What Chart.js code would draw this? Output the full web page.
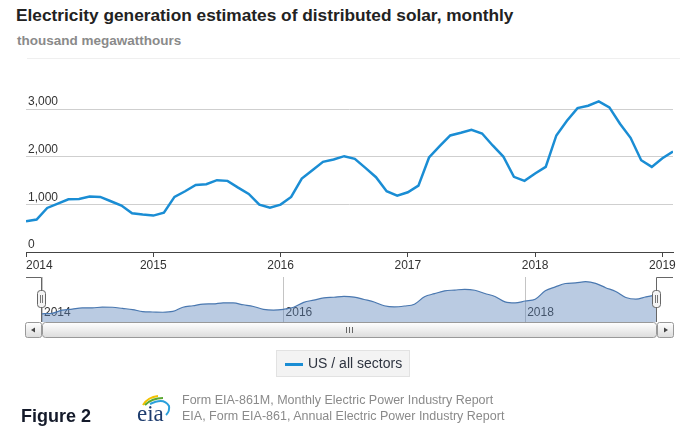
<!DOCTYPE html>
<html>
<head>
<meta charset="utf-8">
<script src="https://cdn.jsdelivr.net/npm/chart.js@4.4.1/dist/chart.umd.min.js"></script>
<style>
html,body{margin:0;padding:0;background:#fff;}
body{width:680px;height:430px;position:relative;overflow:hidden;font-family:"Liberation Sans",Arial,sans-serif;}
.abs{position:absolute;}
#title{left:16px;top:5px;font-size:17.3px;line-height:20px;font-weight:bold;color:#222;white-space:nowrap;}
#sub{left:17px;top:33px;font-size:13.5px;line-height:16px;font-weight:bold;color:#8a8a8a;white-space:nowrap;}
#rule{left:27px;top:58px;width:653px;height:1px;background:#efefef;}
#main{left:0;top:60px;}
#nav{left:0;top:270px;}
#overlay{left:0;top:0;pointer-events:none;}
#legend{left:276px;top:350px;width:132px;height:25px;background:#f3f3f3;border:1px solid #e2e2e2;}
#legend .sw{position:absolute;left:8px;top:12px;width:18px;height:2.5px;background:#1a8dd4;}
#legend .tx{position:absolute;left:31px;top:4px;font-size:14px;line-height:17px;color:#2e3440;white-space:nowrap;}
#fig{left:21px;top:406px;font-size:18px;line-height:20px;font-weight:bold;color:#141a2a;white-space:nowrap;}
#src{left:182px;top:393px;font-size:12.5px;line-height:15.7px;color:#8a8a8a;white-space:nowrap;}
</style>
</head>
<body>
<div id="title" class="abs">Electricity generation estimates of distributed solar, monthly</div>
<div id="sub" class="abs">thousand megawatthours</div>
<div id="rule" class="abs"></div>
<canvas id="main" class="abs" width="680" height="215"></canvas>
<canvas id="nav" class="abs" width="680" height="60"></canvas>
<svg id="overlay" class="abs" width="680" height="430" xmlns="http://www.w3.org/2000/svg">
  <defs>
    <linearGradient id="sg" x1="0" y1="0" x2="0" y2="1">
      <stop offset="0" stop-color="#ffffff"/>
      <stop offset="1" stop-color="#dcdcdc"/>
    </linearGradient>
  </defs>
  <!-- navigator outline -->
  <path d="M26,277.5 H41.5 V322 M656.5,322 V277.5 H673" fill="none" stroke="#666" stroke-width="1"/>
  <!-- scrollbar -->
  <rect x="25.5" y="322.5" width="16" height="15" rx="2" fill="url(#sg)" stroke="#999"/>
  <path d="M35,327.5 L31,330 L35,332.5 Z" fill="#444"/>
  <rect x="42.5" y="322.5" width="614" height="15" rx="3" fill="url(#sg)" stroke="#999"/>
  <path d="M346.5,327 V333 M349.5,327 V333 M352.5,327 V333" stroke="#666" stroke-width="1"/>
  <rect x="657.5" y="322.5" width="16" height="15" rx="2" fill="url(#sg)" stroke="#999"/>
  <path d="M664,327.5 L668,330 L664,332.5 Z" fill="#444"/>
  <!-- handles -->
  <rect x="37.5" y="290.5" width="8" height="17" rx="3" fill="#f4f4f4" stroke="#666"/>
  <path d="M40.5,295 V303 M42.5,295 V303" stroke="#777" stroke-width="1"/>
  <rect x="652.5" y="290.5" width="8" height="17" rx="3" fill="#f4f4f4" stroke="#666"/>
  <path d="M655.5,295 V303 M657.5,295 V303" stroke="#777" stroke-width="1"/>
  <!-- eia logo -->
  <path d="M143,405 Q148,397 158,396" fill="none" stroke="#f2c200" stroke-width="2"/>
  <path d="M145,405 Q152,398 163,398" fill="none" stroke="#5aa832" stroke-width="2"/>
  <path d="M150,404 Q164,397 169,406 Q170,411 166,415" fill="none" stroke="#2aa0dc" stroke-width="2"/>
  <text x="137" y="421" font-family="Liberation Serif, DejaVu Serif, serif" font-size="23" fill="#1d3c6e">eia</text>
</svg>
<div id="legend" class="abs"><div class="sw"></div><div class="tx">US / all sectors</div></div>
<div id="fig" class="abs">Figure 2</div>
<div id="src" class="abs">Form EIA-861M, Monthly Electric Power Industry Report<br>EIA, Form EIA-861, Annual Electric Power Industry Report</div>

<script>
// Monthly values, Jan 2014 .. Feb 2019 (thousand MWh)
const startYear = 2014;
const values2014 = [645, 680, 925, 1016, 1107, 1114, 1163, 1156, 1065, 974, 813, 785];
const values2015 = [764, 827, 1156, 1275, 1408, 1422, 1507, 1493, 1352, 1219, 995, 932];
const values2016 = [995, 1156, 1541, 1717, 1892, 1941, 2011, 1955, 1766, 1570, 1275, 1184];
const values2017 = [1254, 1394, 1983, 2221, 2446, 2502, 2565, 2488, 2236, 2004, 1577, 1493];
const values2018 = [1647, 1787, 2446, 2754, 3020, 3069, 3160, 3034, 2691, 2397, 1927, 1787];
const values2019 = [1969, 2109];
const seriesName = 'US / all sectors';

const values = [].concat(values2014, values2015, values2016, values2017, values2018, values2019);
const monthIndex = values.map((v, i) => i);            // months since Jan 2014
const yearTickLabels = [2014, 2015, 2016, 2017, 2018, 2019];
const navTickLabels = [2014, 2016, 2018];
const yTickValues = [0, 1000, 2000, 3000];

const points = values.map((v, i) => ({x: monthIndex[i], y: v}));
const lastIdx = monthIndex[monthIndex.length - 1];
const yearToIdx = y => (y - startYear) * 12;

const FONT = 'Liberation Sans';

new Chart(document.getElementById('main'), {
  type: 'line',
  data: {datasets: [{
    label: seriesName,
    data: points,
    borderColor: '#1a8dd4',
    borderWidth: 2.5,
    pointRadius: 0,
    tension: 0,
    fill: false
  }]},
  options: {
    responsive: false, animation: false, devicePixelRatio: 1,
    layout: {padding: {left: 26, right: 7, top: 30, bottom: 0}},
    plugins: {legend: {display: false}, tooltip: {enabled: false}},
    scales: {
      x: {
        type: 'linear', min: 0, max: lastIdx,
        afterBuildTicks: s => {
          s.ticks = yearTickLabels.map(y => ({value: yearToIdx(y)})).concat([{value: lastIdx}]);
        },
        afterFit: s => { s.height = 23; },
        grid: {
          drawOnChartArea: false, drawTicks: true, tickLength: 5, lineWidth: 1,
          color: ctx => (ctx.tick && ctx.tick.value === lastIdx) ? 'rgba(0,0,0,0)' : '#444'
        },
        border: {color: '#444', width: 1},
        ticks: {
          autoSkip: false, maxRotation: 0, minRotation: 0, align: 'inner', padding: 1,
          color: '#333', font: {size: 12, family: FONT},
          callback: v => (v === lastIdx) ? '' : String(startYear + v / 12)
        }
      },
      y: {
        type: 'linear', min: 0, max: 3400, position: 'left',
        afterBuildTicks: s => { s.ticks = yTickValues.map(v => ({value: v})); },
        afterFit: s => { s.width = 0; },
        grid: {color: '#cfcfcf', lineWidth: 1, drawTicks: false},
        border: {display: false},
        ticks: {
          mirror: true, padding: 2, labelOffset: -7,
          color: '#333', font: {size: 12, family: FONT},
          callback: v => v.toLocaleString('en-US')
        }
      }
    }
  }
});

new Chart(document.getElementById('nav'), {
  type: 'line',
  data: {datasets: [{
    label: seriesName,
    data: points,
    borderColor: '#4a78b0',
    borderWidth: 1.2,
    backgroundColor: 'rgba(90,130,185,0.42)',
    fill: 'origin',
    pointRadius: 0,
    tension: 0.4,
    cubicInterpolationMode: 'monotone'
  }]},
  options: {
    responsive: false, animation: false, devicePixelRatio: 1,
    layout: {padding: {left: 42, right: 24, top: 7, bottom: 8}},
    plugins: {legend: {display: false}, tooltip: {enabled: false}},
    scales: {
      x: {
        type: 'linear', min: 0, max: lastIdx,
        afterBuildTicks: s => { s.ticks = navTickLabels.map(y => ({value: yearToIdx(y)})); },
        afterFit: s => { s.height = 0; },
        grid: {color: '#c4c4c4', lineWidth: 1, drawTicks: false},
        border: {display: false},
        ticks: {
          autoSkip: false, maxRotation: 0, mirror: true, align: 'start', padding: 2, labelOffset: 2,
          color: '#333', font: {size: 12, family: FONT},
          callback: v => String(startYear + v / 12)
        }
      },
      y: {display: false, min: 0, max: 3530}
    }
  }
});
</script>
</body>
</html>
